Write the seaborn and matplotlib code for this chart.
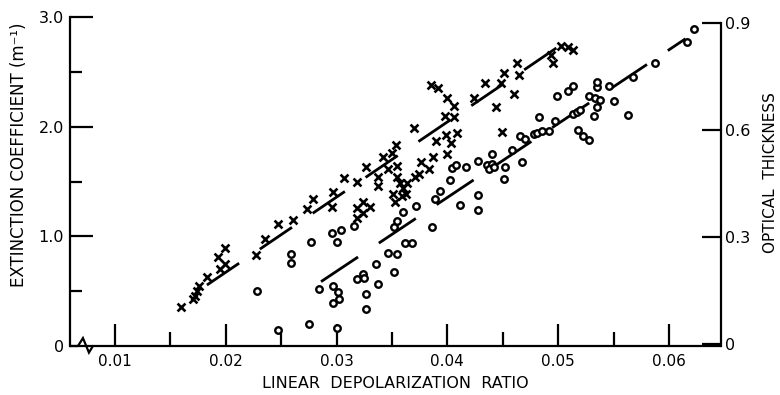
import matplotlib
matplotlib.use("Agg")
import matplotlib.pyplot as plt
import seaborn as sns
from matplotlib.ticker import FixedLocator

# ---------------- data ----------------
ext_ratio = [0.0160, 0.0170, 0.0172, 0.0174, 0.0176, 0.0183, 0.0193, 0.0199, 0.0195, 0.0199,
             0.0227, 0.0235, 0.0247, 0.0261, 0.0273, 0.0279, 0.0296, 0.0297, 0.0307, 0.0318,
             0.0327, 0.0318, 0.0324, 0.0330, 0.0318, 0.0324, 0.0337, 0.0337, 0.0342, 0.0346,
             0.0350, 0.0354, 0.0351, 0.0353, 0.0355, 0.0355, 0.0357, 0.0360, 0.0363, 0.0359,
             0.0364, 0.0371, 0.0374, 0.0376, 0.0383, 0.0387, 0.0390, 0.0370, 0.0385, 0.0392,
             0.0400, 0.0406, 0.0398, 0.0406, 0.0399, 0.0403, 0.0409, 0.0400, 0.0424, 0.0434,
             0.0444, 0.0449, 0.0448, 0.0451, 0.0463, 0.0465, 0.0460, 0.0494, 0.0495, 0.0503,
             0.0509, 0.0513]
ext_coef = [0.36, 0.43, 0.46, 0.50, 0.55, 0.63, 0.81, 0.89, 0.70, 0.75,
            0.83, 0.98, 1.11, 1.15, 1.25, 1.34, 1.27, 1.40, 1.53, 1.50,
            1.63, 1.26, 1.31, 1.27, 1.17, 1.21, 1.54, 1.46, 1.72, 1.61,
            1.76, 1.83, 1.39, 1.31, 1.64, 1.54, 1.49, 1.44, 1.39, 1.37,
            1.49, 1.54, 1.57, 1.68, 1.61, 1.72, 1.87, 1.99, 2.38, 2.35,
            2.26, 2.19, 2.10, 2.09, 1.92, 1.85, 1.94, 1.75, 2.26, 2.40,
            2.18, 1.95, 2.40, 2.49, 2.58, 2.47, 2.30, 2.65, 2.58, 2.74,
            2.73, 2.70]

opt_ratio = [0.0247, 0.0275, 0.0300, 0.0228, 0.0259, 0.0259, 0.0277, 0.0284, 0.0297, 0.0301,
             0.0302, 0.0297, 0.0296, 0.0304, 0.0300, 0.0316, 0.0318, 0.0324, 0.0325, 0.0327,
             0.0327, 0.0336, 0.0337, 0.0346, 0.0355, 0.0352, 0.0352, 0.0355, 0.0360, 0.0362,
             0.0368, 0.0372, 0.0386, 0.0389, 0.0393, 0.0402, 0.0411, 0.0404, 0.0408, 0.0417,
             0.0428, 0.0428, 0.0428, 0.0436, 0.0440, 0.0438, 0.0442, 0.0440, 0.0452, 0.0451,
             0.0458, 0.0467, 0.0466, 0.0470, 0.0478, 0.0481, 0.0485, 0.0492, 0.0483, 0.0497,
             0.0499, 0.0509, 0.0513, 0.0513, 0.0517, 0.0520, 0.0518, 0.0522, 0.0528, 0.0528,
             0.0533, 0.0532, 0.0535, 0.0535, 0.0535, 0.0538, 0.0546, 0.0550, 0.0563, 0.0568,
             0.0587, 0.0616, 0.0623]
opt_thick = [0.039, 0.055, 0.044, 0.150, 0.252, 0.227, 0.285, 0.155, 0.163, 0.147,
             0.127, 0.114, 0.310, 0.321, 0.285, 0.330, 0.183, 0.197, 0.186, 0.139,
             0.097, 0.224, 0.169, 0.255, 0.252, 0.202, 0.327, 0.346, 0.371, 0.283,
             0.283, 0.388, 0.327, 0.407, 0.429, 0.460, 0.391, 0.493, 0.501, 0.496,
             0.512, 0.418, 0.377, 0.501, 0.504, 0.490, 0.496, 0.532, 0.496, 0.463,
             0.543, 0.510, 0.584, 0.576, 0.590, 0.593, 0.598, 0.598, 0.637, 0.626,
             0.695, 0.709, 0.723, 0.645, 0.651, 0.657, 0.601, 0.584, 0.571, 0.695,
             0.690, 0.640, 0.665, 0.720, 0.734, 0.684, 0.723, 0.681, 0.643, 0.748,
             0.789, 0.848, 0.884]

# regression lines drawn on the chart (end points)
ext_fit_ratio = [0.0183, 0.0509]
ext_fit_coef = [0.556, 2.79]
opt_fit_ratio = [0.0286, 0.0615]
opt_fit_thick = [0.175, 0.856]

x_ticks = [0.01, 0.02, 0.03, 0.04, 0.05, 0.06]
x_ticklabels = ["0.01", "0.02", "0.03", "0.04", "0.05", "0.06"]
x_minor = [0.015, 0.025, 0.035, 0.045, 0.055]
left_ticks = [0, 1.0, 2.0, 3.0]
left_ticklabels = ["0", "1.0", "2.0", "3.0"]
left_minor = [0.5, 1.5, 2.5]
right_ticks = [0, 0.3, 0.6, 0.9]
right_ticklabels = ["0", "0.3", "0.6", "0.9"]

# ---------------- style ----------------
sns.set_style("ticks")
plt.rcParams["font.family"] = ["DejaVu Sans"]
plt.rcParams.update({"text.color": "black", "axes.labelcolor": "black",
                     "xtick.color": "black", "ytick.color": "black",
                     "axes.edgecolor": "black"})

fig = plt.figure(figsize=(7.8, 3.95), dpi=100)
ax = fig.add_axes([70 / 780, 49 / 395, 651 / 780, 329 / 395])
ax2 = ax.twinx()

XMIN, XMAX = 0.00594, 0.0647
ax.set_xlim(XMIN, XMAX)
ax.set_ylim(0, 3.0)
ax2.set_ylim(-0.0055, 0.917)

# scatter
sns.scatterplot(x=ext_ratio, y=ext_coef, marker="x", s=32, color="black",
                linewidth=1.9, ax=ax, zorder=3)
sns.scatterplot(x=opt_ratio, y=opt_thick, marker="o", s=22, facecolor="white",
                edgecolor="black", linewidth=1.7, ax=ax2, zorder=3)

# dashed fit lines
sns.lineplot(x=ext_fit_ratio, y=ext_fit_coef, ax=ax, color="black", linewidth=2.0,
             linestyle=(0, (14, 9)))
sns.lineplot(x=opt_fit_ratio, y=opt_fit_thick, ax=ax2, color="black", linewidth=2.0,
             linestyle=(0, (16, 9)))

# ---------------- axes decoration ----------------
for s in ["top", "right", "bottom"]:
    ax.spines[s].set_visible(False)
ax.spines["left"].set_linewidth(1.6)
for s in ["top", "left", "bottom"]:
    ax2.spines[s].set_visible(False)
ax2.spines["right"].set_linewidth(1.6)
ax2.spines["right"].set_bounds(-0.0055, 0.9)

# bottom axis with break
ax.plot([XMIN, 0.00666, 0.00711, 0.00765, 0.00801, XMAX],
        [0, 0, 0.024, -0.020, 0, 0], color="black", lw=1.6,
        transform=ax.get_xaxis_transform(), clip_on=False, zorder=4,
        solid_joinstyle="miter")

ax.xaxis.set_major_locator(FixedLocator(x_ticks))
ax.set_xticklabels(x_ticklabels)
ax.xaxis.set_minor_locator(FixedLocator(x_minor))
ax.yaxis.set_major_locator(FixedLocator(left_ticks))
ax.set_yticklabels(left_ticklabels)
ax.yaxis.set_minor_locator(FixedLocator(left_minor))
ax2.yaxis.set_major_locator(FixedLocator(right_ticks))
ax2.set_yticklabels(right_ticklabels)

ax.tick_params(axis="x", which="major", direction="in", length=16, width=1.6,
               pad=6, labelsize=11)
ax.tick_params(axis="x", which="minor", direction="in", length=10, width=1.6)
ax.tick_params(axis="y", which="major", direction="in", length=16.5, width=1.6,
               pad=4.5, labelsize=11.5)
ax.tick_params(axis="y", which="minor", direction="in", length=8.5, width=1.6)
ax2.tick_params(axis="y", which="major", direction="in", length=13.5, width=1.6,
                pad=3, labelsize=11.5)

ax.set_xlabel("LINEAR  DEPOLARIZATION  RATIO", fontsize=11.5)
ax.xaxis.set_label_coords(0.5, -0.09)
ax.set_ylabel("EXTINCTION COEFFICIENT (m⁻¹)", fontsize=12)
ax.yaxis.set_label_coords(-0.0645, 0.58)
ax2.set_ylabel("OPTICAL  THICKNESS", fontsize=11)
ax2.yaxis.set_label_coords(1.064, 0.526)

fig.savefig("out.png", dpi=100)
